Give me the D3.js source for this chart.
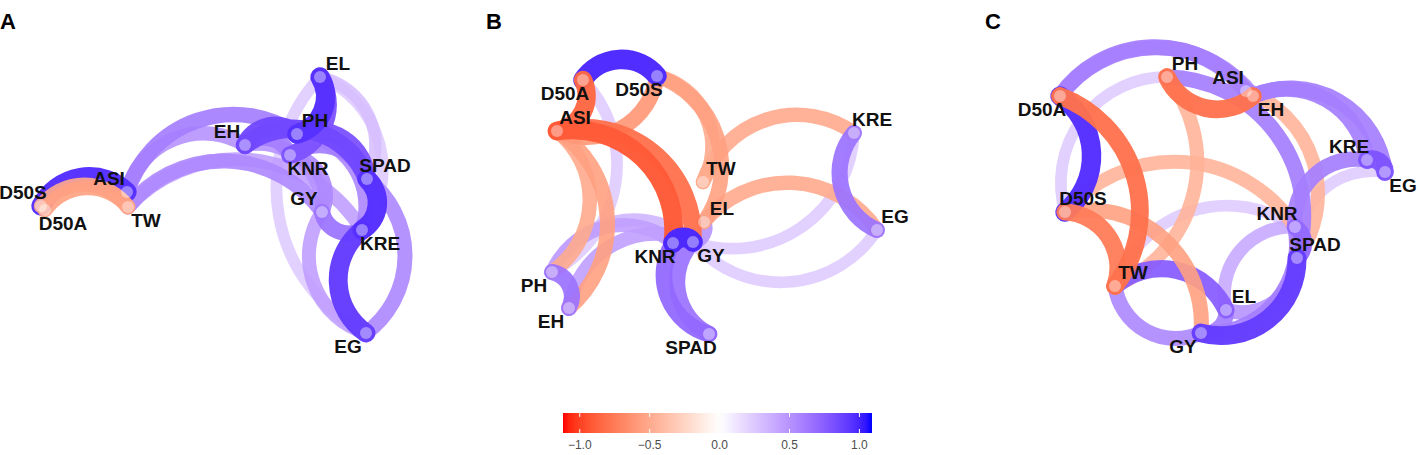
<!DOCTYPE html>
<html>
<head>
<meta charset="utf-8">
<script src="https://cdn.jsdelivr.net/npm/d3@7"></script>
<style>
  html, body { margin: 0; padding: 0; background: #fff; }
  svg { display: block; }
</style>
</head>
<body>
<svg id="chart" width="1418" height="455"></svg>
<script>
// ---------------- DATA ----------------
const nodeNames = ["D50A","D50S","ASI","TW","EH","PH","KNR","EL","SPAD","GY","KRE","EG"];
const panelLabels = ["A","B","C"];

// node coordinates (multidimensional-scaling space), one array per panel, in nodeNames order
const xA = [-1.60,-1.64,-0.78,-0.77, 0.40, 0.92, 0.85, 1.15, 1.62, 1.17, 1.57, 1.61];
const yA = [-0.05,-0.01, 0.13,-0.02, 0.60, 0.71, 0.50, 1.28, 0.26,-0.07,-0.25,-1.28];
const xB = [-1.32,-0.58,-1.58,-0.12,-1.46,-1.63,-0.42,-0.11,-0.06,-0.22, 1.39, 1.62];
const yB = [ 1.25, 1.29, 0.74, 0.23,-1.03,-0.67,-0.38,-0.17,-1.29,-0.37, 0.72,-0.25];
const xC = [-1.60,-1.55, 0.26,-1.05, 0.33,-0.53, 0.75, 0.06, 0.77,-0.19, 1.47, 1.65];
const yC = [ 1.09,-0.07, 1.14,-0.81, 1.09, 1.28,-0.22,-1.05,-0.53,-1.28, 0.45, 0.33];

// correlations drawn as edges, in drawing order: [from, to, r]
const edgesA = [
  ["EL","KRE",0.25], ["EG","EL",0.25], ["EL","SPAD",0.30], ["TW","KRE",0.45], ["EG","GY",0.45],
  ["ASI","EH",0.50], ["EH","GY",0.50], ["TW","GY",0.55], ["KNR","GY",0.55], ["PH","KRE",0.55],
  ["SPAD","EG",0.55], ["ASI","PH",0.60], ["EH","KNR",0.60], ["KNR","SPAD",0.60], ["KRE","GY",0.65],
  ["EL","KNR",0.80], ["PH","SPAD",0.80], ["EH","PH",0.85], ["EH","SPAD",0.85], ["EG","KRE",0.90],
  ["EL","PH",0.95], ["SPAD","KRE",0.95], ["D50S","ASI",0.95], ["D50S","TW",-0.50], ["D50A","TW",-0.55]
];
const edgesB = [
  ["D50A","PH",0.25], ["KRE","GY",0.25], ["EG","GY",0.25], ["PH","GY",0.35], ["PH","KNR",0.45],
  ["EH","GY",0.45], ["D50S","TW",-0.50], ["ASI","PH",-0.50], ["TW","KRE",-0.50], ["EL","EG",-0.50],
  ["EL","GY",0.50], ["D50S","EL",-0.55], ["ASI","EH",-0.55], ["D50S","ASI",-0.60], ["EG","KRE",0.65],
  ["SPAD","GY",0.65], ["PH","EH",0.65], ["SPAD","KNR",0.70], ["ASI","GY",-0.80], ["D50A","D50S",0.97],
  ["D50A","ASI",-0.85], ["ASI","KNR",-0.90], ["KNR","GY",0.98]
];
const edgesC = [
  ["D50S","PH",0.25], ["TW","KNR",0.25], ["SPAD","EG",0.25], ["EL","KNR",0.40], ["D50S","KNR",-0.45],
  ["PH","TW",-0.45], ["ASI","SPAD",-0.45], ["SPAD","EL",0.50], ["ASI","EH",0.50], ["GY","TW",0.55],
  ["D50A","EH",0.55], ["D50A","ASI",0.60], ["PH","SPAD",0.60], ["KNR","GY",0.60], ["EL","GY",0.60],
  ["KNR","KRE",0.60], ["EH","KRE",0.60], ["EH","EG",0.60], ["KNR","SPAD",0.70], ["TW","EL",0.75],
  ["D50S","GY",-0.55], ["KRE","EG",0.80], ["SPAD","GY",0.90], ["D50A","D50S",0.95],
  ["D50S","TW",-0.75], ["D50A","TW",-0.80], ["EH","PH",-0.80]
];

// colour-bar ticks
const legendTicks = [-1.0, -0.5, 0.0, 0.5, 1.0];
const colorDomain = [-1.12, 0, 1.09];

// ---------------- LAYOUT / STYLE ----------------
const panelCenters = [205, 715, 1220];
const panelTitleX = [0, 486, 985];
// label side for each node (ggrepel-like placement) per panel
const labelSide = [
  {D50A:"se",D50S:"nw",ASI:"nw",TW:"se",EH:"nw",PH:"ne",KNR:"se",EL:"ne",SPAD:"ne",GY:"nw",KRE:"se",EG:"sw"},
  {D50A:"sw",D50S:"sw",ASI:"ne",TW:"ne",EH:"sw",PH:"sw",KNR:"sw",EL:"ne",SPAD:"sw",GY:"se",KRE:"ne",EG:"ne"},
  {D50A:"sw",D50S:"ne",ASI:"nw",TW:"ne",EH:"se",PH:"ne",KNR:"nw",EL:"ne",SPAD:"ne",GY:"sw",KRE:"nw",EG:"se"}
];

const svg = d3.select("#chart");
const color = d3.scaleLinear().domain(colorDomain).range(["#FF0000","#FFFFFF","#0000FF"]).interpolate(d3.interpolateLab).clamp(true);
const widthScale = d3.scaleLinear().domain([0,1]).range([9,20]);
const alphaScale = d3.scaleLinear().domain([0,1]).range([0.8,1]);

const panels = [
  {xs:xA, ys:yA, edges:edgesA},
  {xs:xB, ys:yB, edges:edgesB},
  {xs:xC, ys:yC, edges:edgesC}
];

panels.forEach((p, i) => {
  const cx = panelCenters[i];
  const x = d3.scaleLinear().domain([-2,2]).range([cx-200, cx+200]);
  const y = d3.scaleLinear().domain([-2,2]).range([405, 5]);
  const pos = {};
  nodeNames.forEach((n, k) => { pos[n] = [x(p.xs[k]), y(p.ys[k])]; });

  const g = svg.append("g");
  g.selectAll("path.edge").data(p.edges).enter().append("path")
    .attr("class","edge")
    .attr("d", d => {
      const [x0,y0] = pos[d[0]], [x1,y1] = pos[d[1]];
      const c = Math.hypot(x1-x0, y1-y0);
      const R = 0.625 * c;
      return `M${x0},${y0}A${R},${R} 0 0 1 ${x1},${y1}`;
    })
    .attr("fill","none")
    .attr("stroke", d => color(d[2]))
    .attr("stroke-width", d => widthScale(Math.abs(d[2])))
    .attr("stroke-opacity", d => alphaScale(Math.abs(d[2])))
    .attr("stroke-linecap","round");

  g.selectAll("circle.node").data(nodeNames).enter().append("circle")
    .attr("class","node")
    .attr("cx", n => pos[n][0]).attr("cy", n => pos[n][1])
    .attr("r", 6).attr("fill","#fff").attr("fill-opacity",0.4);

  g.selectAll("text.lab").data(nodeNames).enter().append("text")
    .attr("class","lab")
    .attr("x", n => pos[n][0] + (labelSide[i][n].includes("e") ? 18 : -18))
    .attr("y", n => pos[n][1] + (labelSide[i][n].includes("s") ? 13.5 : -13.5))
    .attr("dy","0.35em")
    .attr("text-anchor","middle")
    .style("font-family","'Liberation Sans', Arial, sans-serif")
    .style("font-weight","bold").style("font-size","19px")
    .attr("fill","#111")
    .text(n => n);

  svg.append("text")
    .attr("x", panelTitleX[i]).attr("y", 29)
    .style("font-family","'Liberation Sans', Arial, sans-serif")
    .style("font-weight","bold").style("font-size","22px")
    .attr("fill","#000")
    .text(panelLabels[i]);
});

// ---------------- LEGEND ----------------
const lx = d3.scaleLinear().domain([colorDomain[0], colorDomain[2]]).range([563, 872]);
const defs = svg.append("defs");
const grad = defs.append("linearGradient").attr("id","cbar").attr("x1","0%").attr("x2","100%");
d3.range(0, 1.0001, 0.02).forEach(t => {
  const v = colorDomain[0] + t*(colorDomain[2]-colorDomain[0]);
  grad.append("stop").attr("offset", (t*100)+"%").attr("stop-color", color(v));
});
svg.append("rect").attr("x",563).attr("y",413).attr("width",309).attr("height",20).attr("fill","url(#cbar)");
const lg = svg.append("g");
legendTicks.forEach(t => {
  lg.append("line").attr("x1",lx(t)).attr("x2",lx(t)).attr("y1",413).attr("y2",417).attr("stroke","#fff").attr("stroke-width",1);
  lg.append("line").attr("x1",lx(t)).attr("x2",lx(t)).attr("y1",429).attr("y2",433).attr("stroke","#fff").attr("stroke-width",1);
  lg.append("text").attr("x",lx(t)).attr("y",449).attr("text-anchor","middle")
    .style("font-family","'Liberation Sans', Arial, sans-serif").style("font-size","12px")
    .attr("fill","#4D4D4D").text(d3.format(".1f")(t));
});
</script>
</body>
</html>
